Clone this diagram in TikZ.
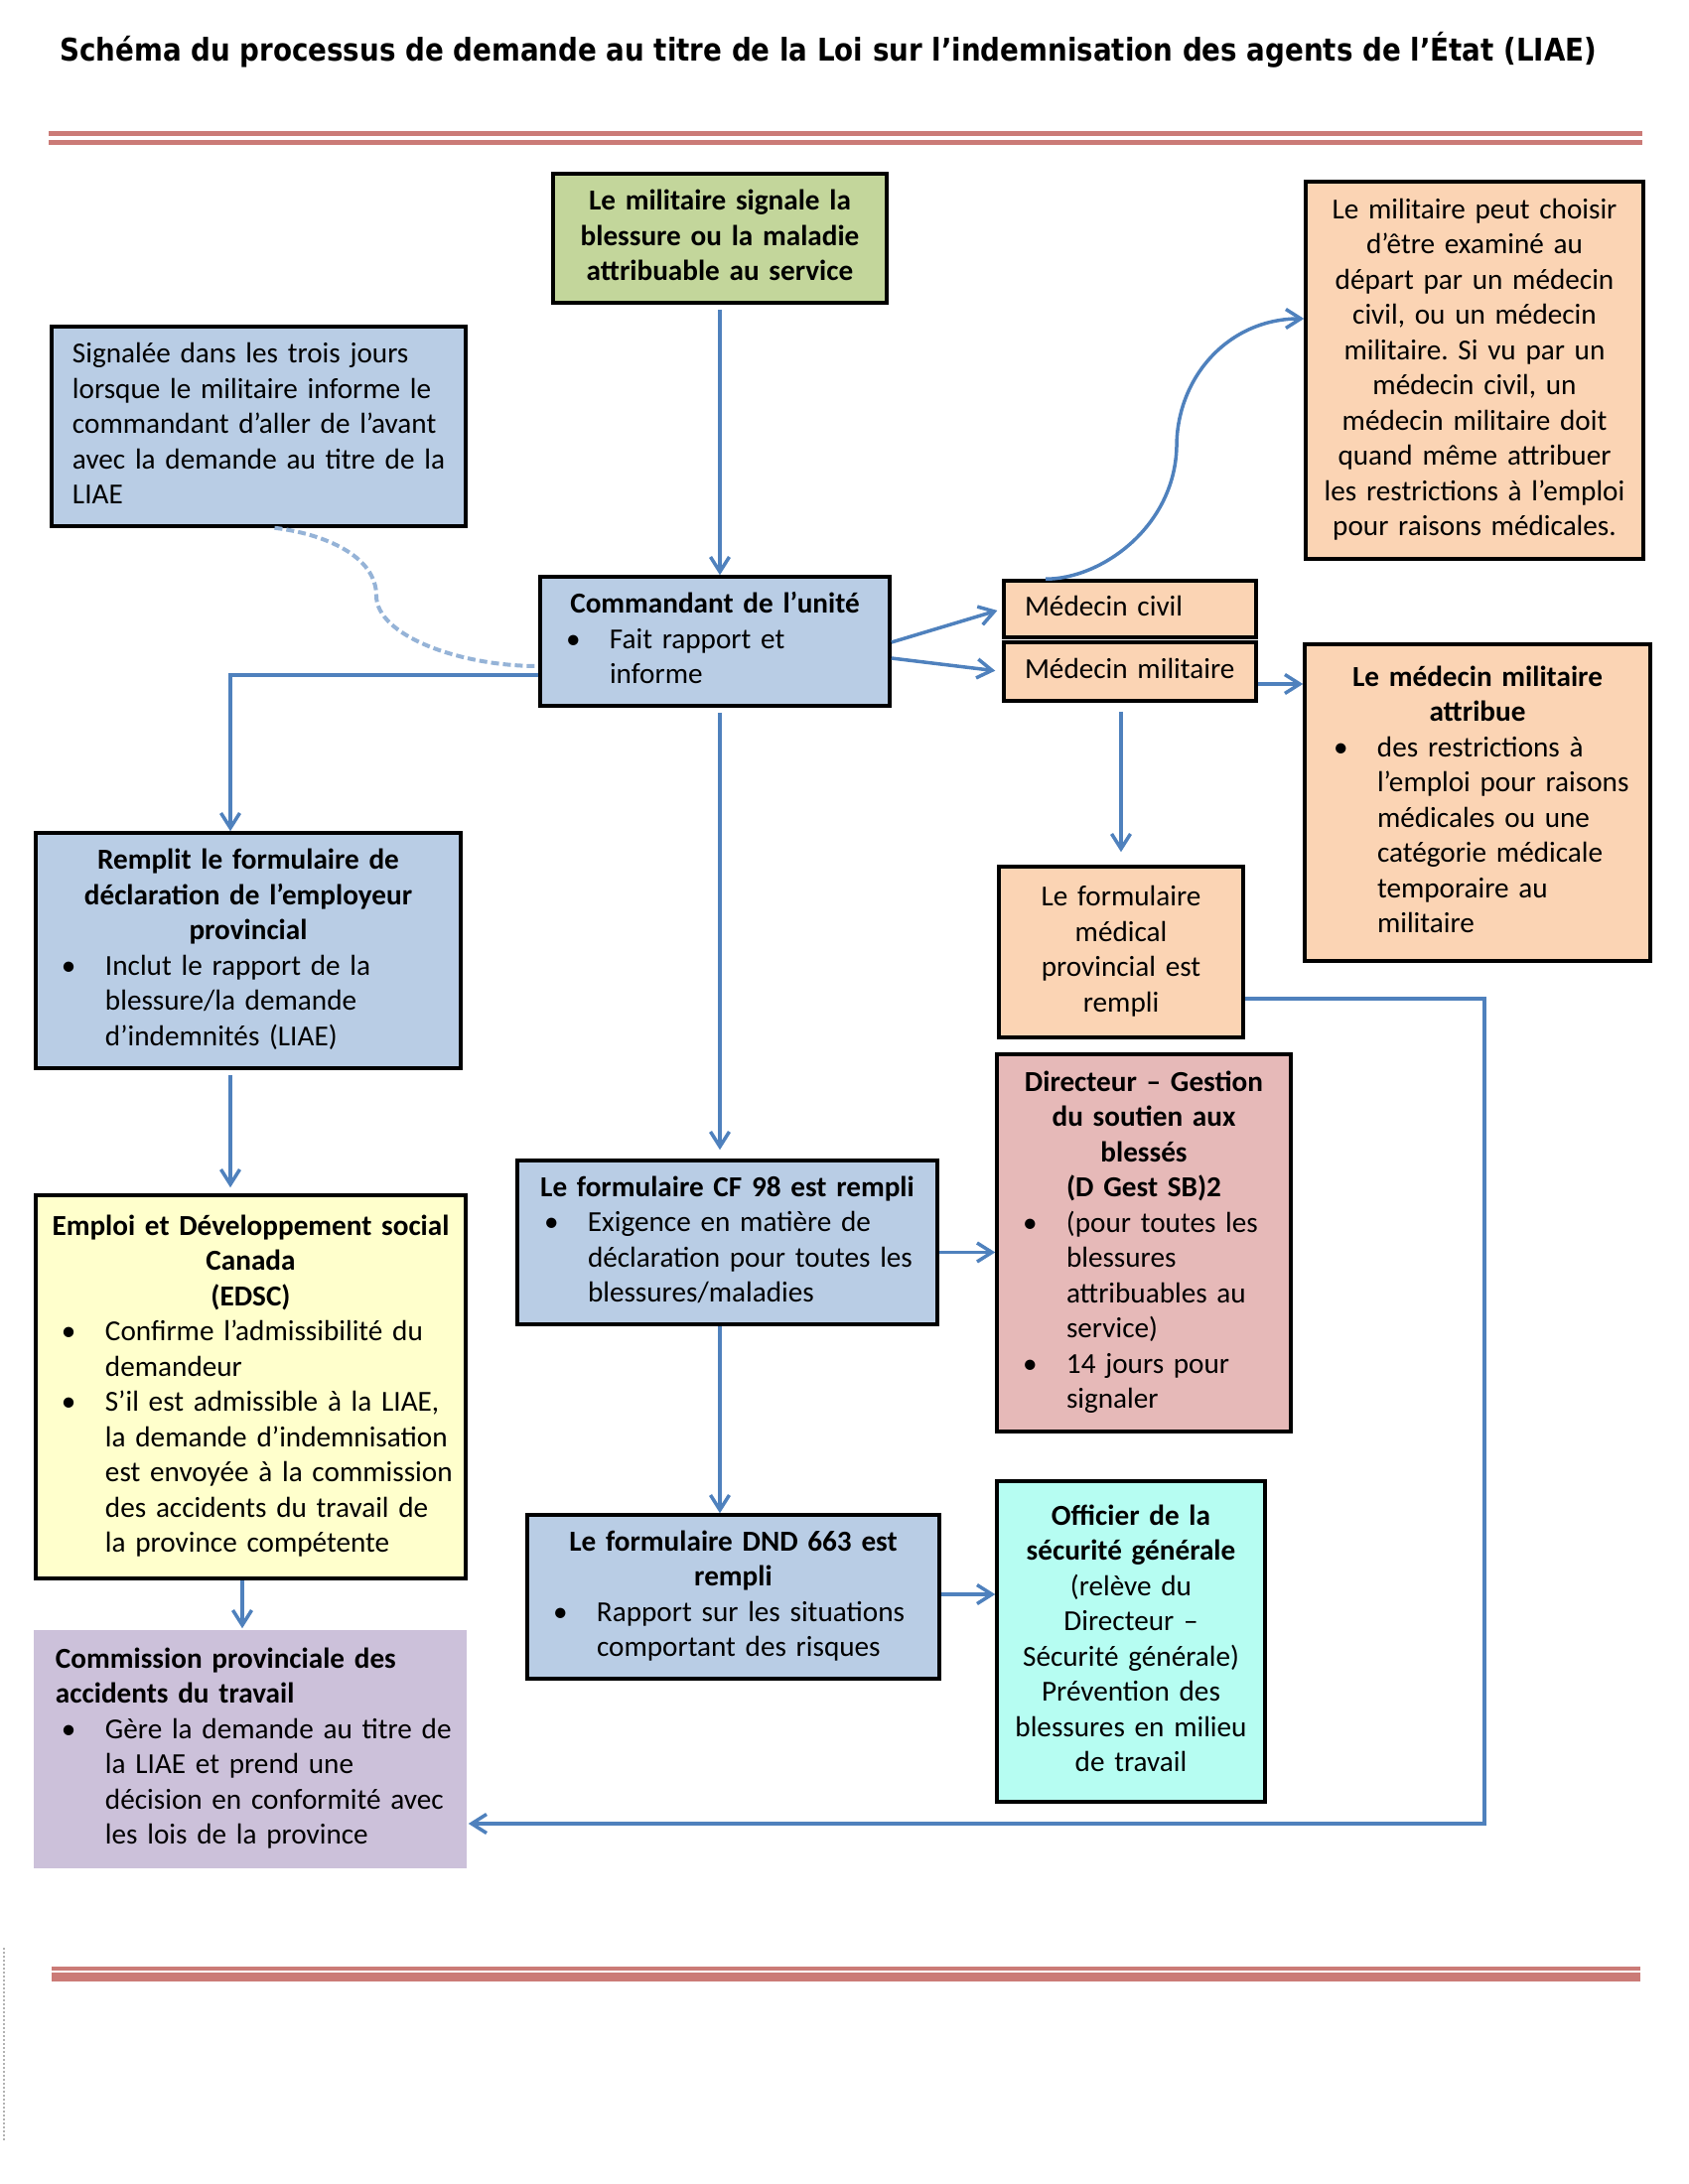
\documentclass[tikz,border=0pt]{standalone}
\usepackage{fontspec}
\setmainfont{Carlito}
\newfontfamily\titrefont[FakeStretch=0.88]{DejaVu Sans}
\usetikzlibrary{calc,arrows.meta}
\frenchspacing

\definecolor{vertolive}{HTML}{C3D69B}
\definecolor{bleuclair}{HTML}{B9CDE5}
\definecolor{peche}{HTML}{FBD4B4}
\definecolor{rosepale}{HTML}{E6B9B8}
\definecolor{jaunepale}{HTML}{FFFFCC}
\definecolor{lavande}{HTML}{CCC1DA}
\definecolor{cyanpale}{HTML}{B6FDF2}
\definecolor{bleufleche}{HTML}{4F81BD}
\definecolor{bleutirets}{HTML}{95B3D7}
\definecolor{rosetrait}{HTML}{CB7B77}

\newcommand{\titre}[1]{{\centering\bfseries #1\strut\par}}
\newcommand{\centrer}[1]{{\centering #1\strut\par}}
\newcommand{\puce}[3]{\noindent\hspace*{#1bp}\makebox[44bp][l]{\textbullet}\parbox[t]{#2bp}{\raggedright\strut #3\strut}\par}
\newcommand{\gauche}[3]{\noindent\hspace*{#1bp}\parbox[t]{#2bp}{\raggedright\strut #3\strut}\par}

\tikzset{
	boite/.style 2 args={draw=black, line width=3.5bp, inner sep=0pt, text width=#1bp, minimum width=#1bp, minimum height=#2bp, execute at begin node={\setlength{\parindent}{0pt}\lineskip=0pt\strut}},
	fleche/.style={draw=bleufleche, line width=3.5bp, -{Straight Barb[length=15bp,width=19bp]}},
	tirets/.style={draw=bleutirets, line width=4bp, dash pattern=on 8bp off 4bp},
	regle/.style={draw=rosetrait}
}

\begin{document}
\begin{tikzpicture}[x=1bp, y=-1bp, every node/.style={font=\fontsize{29.2bp}{35.5bp}\selectfont}]
			%%%%% START %%%%%
			\useasboundingbox (0,0) rectangle (1700,2200);
			
			\node[anchor=base west, inner sep=0pt, font=\titrefont\bfseries\fontsize{31.5bp}{36bp}\selectfont] (titre) at (60,62) {Schéma du processus de demande au titre de la Loi sur l’indemnisation des agents de l’État (LIAE)};
			
			\draw[regle, line width=5bp] (49,135) -- (1654,135);
			\draw[regle, line width=5bp] (49,144) -- (1654,144);
			
			\node[boite={336}{130}, fill=vertolive] (signal) at (725,240) {\titre{Le militaire signale la\\ blessure ou la maladie\\ attribuable au service}};
			
			\node[boite={417}{201}, fill=bleuclair] (trois) at (260.5,429.5) {\gauche{21}{392}{Signalée dans les trois jours\\ lorsque le militaire informe le\\ commandant d’aller de l’avant\\ avec la demande au titre de la\\ LIAE}};
			
			\node[boite={352}{130}, fill=bleuclair] (cmd) at (720,646) {\titre{Commandant de l’unité}\puce{26}{278}{Fait rapport et\\ informe}};
			
			\node[boite={254}{57}, fill=peche] (civ) at (1138,613.5) {\gauche{21}{229}{Médecin civil}};
			\node[boite={254}{59}, fill=peche] (milit) at (1138,676.5) {\gauche{21}{229}{Médecin militaire}};
			
			\node[boite={340}{380}, fill=peche] (choix) at (1485,373) {\centrer{Le militaire peut choisir\\ d’être examiné au\\ départ par un médecin\\ civil, ou un médecin\\ militaire. Si vu par un\\ médecin civil, un\\ médecin militaire doit\\ quand même attribuer\\ les restrictions à l’emploi\\ pour raisons médicales.}};
			
			\node[boite={348}{319}, fill=peche] (attrib) at (1488,808.5) {\titre{Le médecin militaire\\ attribue}\puce{29}{273}{des restrictions à\\ l’emploi pour raisons\\ médicales ou une\\ catégorie médicale\\ temporaire au\\ militaire}};
			
			\node[boite={246}{172}, fill=peche] (fmed) at (1129,959) {\centrer{Le formulaire\\ médical\\ provincial est\\ rempli}};
			
			\node[boite={428}{237}, fill=bleuclair] (rempl) at (250,957.5) {\titre{Remplit le formulaire de\\ déclaration de l’employeur\\ provincial}\puce{26}{354}{Inclut le rapport de la\\ blessure/la demande\\ d’indemnités (LIAE)}};
			
			\node[boite={423}{165}, fill=bleuclair] (cf) at (732.5,1251.5) {\titre{Le formulaire CF 98 est rempli}\puce{27}{348}{Exigence en matière de\\ déclaration pour toutes les\\ blessures/maladies}};
			
			\node[boite={296}{380}, fill=rosepale] (dgsb) at (1152,1252) {\titre{Directeur – Gestion\\ du soutien aux\\ blessés\\ (D Gest SB)2}\puce{26}{222}{(pour toutes les\\ blessures\\ attribuables au\\ service)}\puce{26}{222}{14 jours pour\\ signaler}};
			
			\node[boite={415}{165}, fill=bleuclair] (dnd) at (738.5,1608.5) {\titre{Le formulaire DND 663 est\\ rempli}\puce{26}{341}{Rapport sur les situations\\ comportant des risques}};
			
			\node[boite={270}{323}, fill=cyanpale] (offsg) at (1139,1653.5) {\titre{Officier de la\\ sécurité générale}\centrer{(relève du\\ Directeur –\\ Sécurité générale)\\ Prévention des\\ blessures en milieu\\ de travail}\vspace{16bp}};
			
			\node[boite={433}{386}, fill=jaunepale] (edsc) at (252.5,1397) {\titre{Emploi et Développement social\\ Canada\\ (EDSC)}\puce{26}{359}{Confirme l’admissibilité du\\ demandeur}\puce{26}{359}{S’il est admissible à la LIAE,\\ la demande d’indemnisation\\ est envoyée à la commission\\ des accidents du travail de\\ la province compétente}};
			
			\node[boite={436}{240}, fill=lavande, draw=none] (cpat) at (252,1762) {\gauche{22}{410}{\bfseries Commission provinciale des\\ accidents du travail}\puce{28}{360}{Gère la demande au titre de\\ la LIAE et prend une\\ décision en conformité avec\\ les lois de la province}};
			
			% fleches
			\draw[fleche, shorten <=5bp] (signal.south) -- (signal.south |- cmd.north);
			
			\coordinate (t1) at ($(trois.south)+(16,0)$);
			\coordinate (t2) at ($(cmd.west)+(0,25)$);
			\draw[tirets] (t1) .. controls +(50,6) and +(0,-40) .. (379,600) .. controls +(0,40) and +(-80,0) .. (t2);
			
			\coordinate (c0) at ($(cmd.west)+(0,34)$);
			\coordinate (r1) at ($(rempl.north)+(-18,0)$);
			\draw[fleche] (c0) -| (r1);
			
			\draw[fleche, shorten >=5bp] ($(cmd.east)+(0,1)$) -- (civ.west);
			\draw[fleche, shorten >=7bp] ($(cmd.east)+(0,17)$) -- (milit.west);
			
			\coordinate (v1) at ($(civ.north)+(-85,0)$);
			\coordinate (v2) at ($(choix.west)+(0,-52)$);
			\draw[fleche] (v1) .. controls +(57,0) and +(-2,80) .. (1185,450) .. controls +(0,-70) and +(-76,0) .. (v2);
			
			\coordinate (m1) at ($(milit.east)+(0,12.5)$);
			\draw[fleche] (m1) -- (m1 -| attrib.west);
			
			\draw[fleche, shorten <=9bp, shorten >=13bp] (fmed.north |- milit.south) -- (fmed.north);
			
			\coordinate (f1) at ($(fmed.east)+(0,47)$);
			\coordinate (coin) at (1495,1837);
			\draw[fleche] (f1) -| (coin) -- (coin -| cpat.east);
			
			\coordinate (k1) at ($(cmd.south)+(5,0)$);
			\draw[fleche, shorten <=5bp, shorten >=9bp] (k1) -- (k1 |- cf.north);
			
			\coordinate (k2) at ($(cf.south)+(-7.5,0)$);
			\draw[fleche] (k2) -- (k2 |- dnd.north);
			
			\coordinate (r2) at ($(rempl.south)+(-18,0)$);
			\draw[fleche, shorten <=5bp, shorten >=6bp] (r2) -- (r2 |- edsc.north);
			
			\coordinate (e1) at ($(edsc.south)+(-8.5,0)$);
			\draw[fleche] (e1) -- (e1 |- cpat.north);
			
			\coordinate (g1) at ($(cf.east)+(0,10)$);
			\draw[fleche] (g1) -- (g1 -| dgsb.west);
			
			\coordinate (g2) at ($(dnd.east)+(0,-2.5)$);
			\draw[fleche] (g2) -- (g2 -| offsg.west);
			
			\draw[regle, line width=4bp] (52,1983) -- (1652,1983);
			\draw[regle, line width=8.5bp] (52,1991.5) -- (1652,1991.5);
			
			\draw[gray!60, line width=1.2bp, dash pattern=on 1.5bp off 2.5bp] (4,1962) -- (4,2158);
			
			%%%%% END %%%%%
\end{tikzpicture}
\end{document}
